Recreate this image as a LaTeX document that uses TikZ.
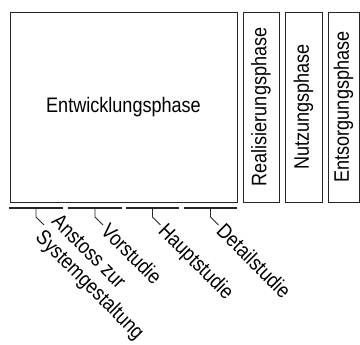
\documentclass[tikz,border=0pt]{standalone}
\usepackage{fontspec}
\setmainfont{Liberation Sans}[FakeStretch=0.86]
\begin{document}
\begin{tikzpicture}[x=1pt,y=-1pt,
  txt/.style={font=\fontsize{21}{23}\selectfont},
  phase/.style={txt, draw=black!85, line width=0.9pt, inner sep=0pt},
  bar/.style={draw=black!85, line width=1.1pt},
  tick/.style={draw=black!85, line width=0.9pt},
  lbl/.style={txt, rotate=-45, anchor=west, inner sep=0pt, align=left},
  oneline/.style={lbl, text height=15pt, text depth=0pt}]
\useasboundingbox (0,0) rectangle (360,345);

% life-cycle phases
\node[phase, minimum width=227pt, minimum height=190pt] (dev) at (123.5,107) {Entwicklungsphase};
\node[phase, rotate=90, minimum width=190pt, minimum height=36pt] (real) at (261,107) {Realisierungsphase};
\node[phase, rotate=90, minimum width=190pt, minimum height=37pt] (use) at (303.5,107) {Nutzungsphase};
\node[phase, rotate=90, minimum width=190pt, minimum height=31pt] (disp) at (343.5,107) {Entsorgungsphase};

% sub-phases of the development phase
\coordinate (a1) at (9,208);   \coordinate (b1) at (63,208);
\coordinate (a2) at (68,208);  \coordinate (b2) at (122,208);
\coordinate (a3) at (126,208); \coordinate (b3) at (179,208);
\coordinate (a4) at (184,208); \coordinate (b4) at (237,208);
\foreach \i in {1,...,4} \draw[bar] (a\i) -- (b\i);

\foreach \i/\x in {1/36,2/95,3/152.5,4/210.5}{
  \coordinate (t\i) at (\x,208);
  \coordinate (e\i) at (\x+8,225);
}
% each label continues the slanted end of its tick
\node[lbl] (l1) at ([shift={(2.1,2.1)}]e1) {Anstoss zur\\Systemgestaltung};
\node[oneline] (l2) at ([shift={(2.1,2.1)}]e2) {Vorstudie};
\node[oneline] (l3) at ([shift={(2.1,2.1)}]e3) {Hauptstudie};
\node[oneline] (l4) at ([shift={(2.1,2.1)}]e4) {Detailstudie};
\foreach \i in {1,...,4} \draw[tick] (t\i) -- ++(0,9) -- (e\i);
\end{tikzpicture}
\end{document}
